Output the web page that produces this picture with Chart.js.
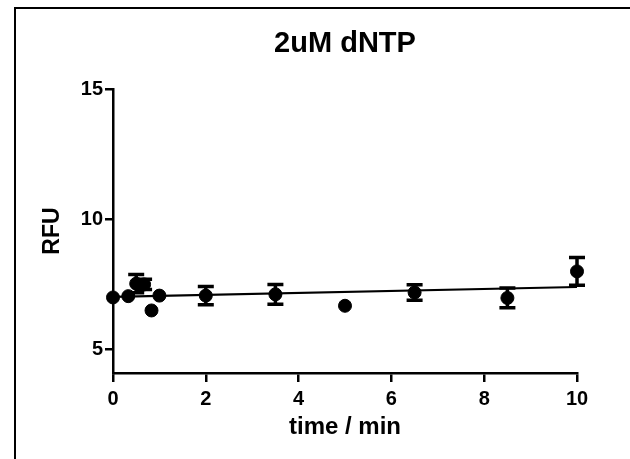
<!DOCTYPE html>
<html>
<head>
<meta charset="utf-8">
<script src="https://cdn.jsdelivr.net/npm/chart.js@4.4.1/dist/chart.umd.min.js"></script>
<style>
  html, body { margin: 0; padding: 0; background: #fff; }
  #box { width: 630px; height: 459px; }
</style>
</head>
<body>
<div id="box"><canvas id="myChart" width="630" height="459"></canvas></div>
<script>
// values
var times = [0, 0.33, 0.5, 0.67, 0.83, 1, 2, 3.5, 5, 6.5, 8.5, 10]
var rfu   = [7.0, 7.05, 7.53, 7.5, 6.5, 7.07, 7.07, 7.12, 6.68, 7.19, 6.98, 8.0]
var sd    = [0, 0, 0.35, 0.2, 0, 0, 0.35, 0.38, 0, 0.3, 0.38, 0.53]
var fitX  = [0, 10]
var fitY  = [7.02, 7.4]
var xTicks = [0, 2, 4, 6, 8, 10]
var yTicks = [5, 10, 15]

var FONT = "'Liberation Sans', Arial, sans-serif"

var points = times.map(function(t, i){ return { x: t, y: rfu[i] } })
var fitLine = fitX.map(function(t, i){ return { x: t, y: fitY[i] } })

// outer frame (left + top only)
var framePlugin = {
    id: 'frame',
    beforeDraw: function(chart){
        var c = chart.ctx
        c.save()
        c.strokeStyle = '#000'
        c.lineWidth = 2
        c.beginPath()
        c.moveTo(15, 459)
        c.lineTo(15, 8)
        c.lineTo(630, 8)
        c.stroke()
        c.restore()
    }
}

// chart title drawn centred over the plot area
var titlePlugin = {
    id: 'plotTitle',
    afterDraw: function(chart){
        var c = chart.ctx
        var a = chart.chartArea
        c.save()
        c.fillStyle = '#000'
        c.font = 'bold 29px ' + FONT
        c.textAlign = 'center'
        c.textBaseline = 'middle'
        c.fillText('2uM dNTP', (a.left + a.right) / 2, 44)
        c.restore()
    }
}

// mean +/- SD bars with caps
var errorBars = {
    id: 'errorBars',
    beforeDatasetsDraw: function(chart){
        var c = chart.ctx
        var xs = chart.scales.x, ys = chart.scales.y
        c.save()
        c.strokeStyle = '#000'
        c.lineWidth = 3.5
        times.forEach(function(t, i){
            if (!sd[i]) return
            var px = xs.getPixelForValue(t)
            var top = ys.getPixelForValue(rfu[i] + sd[i])
            var bot = ys.getPixelForValue(rfu[i] - sd[i])
            c.beginPath()
            c.moveTo(px, top); c.lineTo(px, bot)
            c.moveTo(px - 8, top); c.lineTo(px + 8, top)
            c.moveTo(px - 8, bot); c.lineTo(px + 8, bot)
            c.stroke()
        })
        c.restore()
    }
}

var ctx = document.getElementById('myChart')
var myChart = new Chart(ctx, {
    type: 'scatter',
    data: {
        datasets: [{
            data: points,
            backgroundColor: '#000',
            borderColor: '#000',
            pointRadius: 6.5,
            pointHoverRadius: 6.5,
            clip: false
        }, {
            data: fitLine,
            showLine: true,
            borderColor: '#000',
            borderWidth: 2.2,
            pointRadius: 0,
            clip: false
        }]
    },
    options: {
        responsive: false,
        animation: false,
        events: [],
        layout: { padding: { left: 0, right: 53, top: 89, bottom: 0 } },
        plugins: { legend: { display: false }, tooltip: { enabled: false } },
        scales: {
            x: {
                type: 'linear',
                min: 0, max: 10,
                afterFit: function(s){ s.height = 86 },
                afterBuildTicks: function(s){ s.ticks = xTicks.map(function(v){ return { value: v } }) },
                border: { display: true, color: '#000', width: 2.5 },
                grid: { display: true, drawOnChartArea: false, drawTicks: true, tickLength: 9, color: '#000', lineWidth: 2.5 },
                ticks: { color: '#000', padding: 5, maxRotation: 0, font: { family: FONT, size: 20, weight: 'bold' } },
                title: { display: true, text: 'time / min', color: '#000', padding: { top: 0, bottom: 17 }, font: { family: FONT, size: 24, weight: 'bold' } }
            },
            y: {
                type: 'linear',
                min: 4.1, max: 15,
                afterFit: function(s){ s.width = 113 },
                afterBuildTicks: function(s){ s.ticks = yTicks.map(function(v){ return { value: v } }) },
                border: { display: true, color: '#000', width: 2.5 },
                grid: { display: true, drawOnChartArea: false, drawTicks: true, tickLength: 8, color: '#000', lineWidth: 2.5 },
                ticks: { color: '#000', padding: 2, font: { family: FONT, size: 20, weight: 'bold' } },
                title: { display: true, text: 'RFU', color: '#000', padding: { top: 39, bottom: 0 }, font: { family: FONT, size: 23, weight: 'bold' } }
            }
        }
    },
    plugins: [framePlugin, titlePlugin, errorBars]
})
</script>
</body>
</html>
